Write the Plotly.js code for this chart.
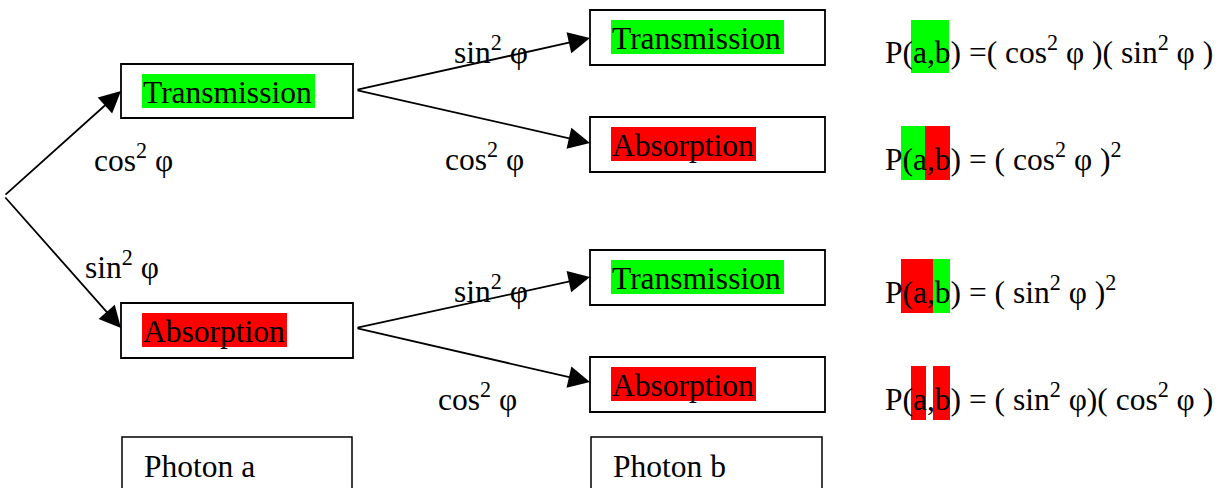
<!DOCTYPE html>
<html>
<head>
<meta charset="utf-8">
<script src="https://cdn.plot.ly/plotly-3.0.1.min.js"></script>
<style>html,body{margin:0;padding:0;background:#fff;}#chart{width:1226px;height:488px;}</style>
</head>
<body>
<div id="chart"></div>
<script>
// ---- content ----
const nodeLabels   = ['Transmission', 'Absorption', 'Transmission', 'Absorption', 'Transmission', 'Absorption'];
const nodeStates   = ['T', 'A', 'T', 'A', 'T', 'A'];
const branchLabels = ['cos<sup>2</sup> φ', 'sin<sup>2</sup> φ', 'sin<sup>2</sup> φ', 'cos<sup>2</sup> φ', 'sin<sup>2</sup> φ', 'cos<sup>2</sup> φ'];
const photonLabels = ['Photon a', 'Photon b'];
const equations = [
  'P(a,b) =( cos<sup>2</sup> φ )( sin<sup>2</sup> φ )',
  'P(a,b) = ( cos<sup>2</sup> φ )<sup>2</sup>',
  'P(a,b) = ( sin<sup>2</sup> φ )<sup>2</sup>',
  'P(a,b) = ( sin<sup>2</sup> φ)( cos<sup>2</sup> φ )'
];
const eqStateA = ['T', 'T', 'A', 'A'];
const eqStateB = ['T', 'A', 'T', 'A'];

// ---- layout geometry (pixels) ----
const W = 1226, H = 488;
const stateColor = {T: '#00ff00', A: '#ff0000'};
const hlWidth = {T: 173, A: 145};
const boxes = [
  {x0: 121, x1: 353, y0: 64,  y1: 118},
  {x0: 121, x1: 353, y0: 303, y1: 358},
  {x0: 590, x1: 825, y0: 10,  y1: 65},
  {x0: 590, x1: 825, y0: 117, y1: 172},
  {x0: 590, x1: 825, y0: 250, y1: 305},
  {x0: 590, x1: 825, y0: 357, y1: 412}
];
const photonBoxes = [
  {x0: 122, x1: 352, y0: 437, y1: 500},
  {x0: 591, x1: 822, y0: 437, y1: 500}
];
// arrows: tail -> tip
const arrows = [
  {from: [4, 196],   to: [121, 91]},
  {from: [4, 196],   to: [121, 328]},
  {from: [356, 90],  to: [590, 38]},
  {from: [356, 90],  to: [590, 143]},
  {from: [356, 328], to: [590, 277]},
  {from: [356, 328], to: [590, 382]}
];
const branchPos = [[92, 158], [83, 265], [452, 50], [443, 157], [452, 289], [436, 397]];
const eqX = 883;
const eqY = [50, 157, 290, 397];
const eqHl = [
  {y0: 20,  y1: 73,  segA: [911, 930], segB: [930, 949]},
  {y0: 126, y1: 180, segA: [901, 925], segB: [925, 950]},
  {y0: 259, y1: 313, segA: [901, 933], segB: [933, 950]},
  {y0: 366, y1: 420, segA: [911, 926], segB: [933, 950]}
];

const FONT = 'Liberation Serif';
const FS = 31.5;
const shapes = [];
const annotations = [];

// node boxes with highlighted labels
boxes.forEach((b, i) => {
  const st = nodeStates[i];
  shapes.push({type: 'rect', xref: 'x', yref: 'y', x0: b.x0 + 21, x1: b.x0 + 21 + hlWidth[st],
    y0: b.y0 + 10, y1: b.y0 + 44, fillcolor: stateColor[st], line: {width: 0}, layer: 'below'});
  shapes.push({type: 'rect', xref: 'x', yref: 'y', x0: b.x0, x1: b.x1, y0: b.y0, y1: b.y1,
    fillcolor: 'rgba(0,0,0,0)', line: {color: '#000', width: 1.8}, layer: 'above'});
  annotations.push({xref: 'x', yref: 'y', x: b.x0 + 20, y: (b.y0 + b.y1) / 2 + 1, xanchor: 'left', yanchor: 'middle',
    text: nodeLabels[i], showarrow: false, font: {family: FONT, size: FS, color: '#000'}});
});

photonBoxes.forEach((b, i) => {
  shapes.push({type: 'rect', xref: 'x', yref: 'y', x0: b.x0, x1: b.x1, y0: b.y0, y1: b.y1,
    fillcolor: 'rgba(0,0,0,0)', line: {color: '#000', width: 1.5}, layer: 'above'});
  annotations.push({xref: 'x', yref: 'y', x: b.x0 + 20, y: b.y0 + 29, xanchor: 'left', yanchor: 'middle',
    text: photonLabels[i], showarrow: false, font: {family: FONT, size: FS, color: '#000'}});
});

arrows.forEach(a => {
  annotations.push({xref: 'x', yref: 'y', axref: 'x', ayref: 'y', x: a.to[0], y: a.to[1], ax: a.from[0], ay: a.from[1],
    text: '', showarrow: true, arrowhead: 2, arrowsize: 2.4, arrowwidth: 1.8, arrowcolor: '#000', standoff: 0, startstandoff: 0});
});

branchLabels.forEach((t, i) => {
  annotations.push({xref: 'x', yref: 'y', x: branchPos[i][0], y: branchPos[i][1], xanchor: 'left', yanchor: 'middle',
    text: t, showarrow: false, font: {family: FONT, size: FS, color: '#000'}});
});

equations.forEach((t, i) => {
  const h = eqHl[i];
  shapes.push({type: 'rect', xref: 'x', yref: 'y', x0: h.segA[0], x1: h.segA[1], y0: h.y0, y1: h.y1,
    fillcolor: stateColor[eqStateA[i]], line: {width: 0}, layer: 'below'});
  shapes.push({type: 'rect', xref: 'x', yref: 'y', x0: h.segB[0], x1: h.segB[1], y0: h.y0, y1: h.y1,
    fillcolor: stateColor[eqStateB[i]], line: {width: 0}, layer: 'below'});
  annotations.push({xref: 'x', yref: 'y', x: eqX, y: eqY[i], xanchor: 'left', yanchor: 'middle',
    text: t, showarrow: false, font: {family: FONT, size: FS, color: '#000'}});
});

const layout = {
  width: W, height: H,
  margin: {l: 0, r: 0, t: 0, b: 0},
  paper_bgcolor: '#fff', plot_bgcolor: '#fff',
  showlegend: false,
  font: {family: FONT, size: FS},
  xaxis: {range: [0, W], visible: false, fixedrange: true},
  yaxis: {range: [H, 0], visible: false, fixedrange: true},
  shapes: shapes,
  annotations: annotations
};

Plotly.newPlot('chart', [{x: [], y: [], type: 'scatter', mode: 'lines', hoverinfo: 'skip'}], layout, {staticPlot: true, displayModeBar: false});
</script>
</body>
</html>
